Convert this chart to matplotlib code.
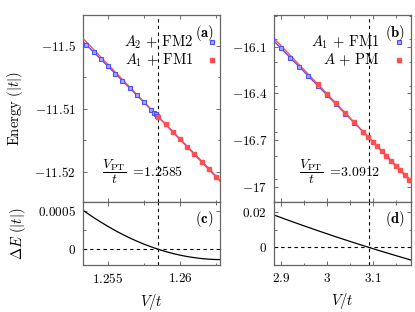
import numpy as np
import matplotlib
matplotlib.use("Agg")
import matplotlib.pyplot as plt
from matplotlib.ticker import MultipleLocator

plt.rcParams['mathtext.fontset'] = 'cm'
plt.rcParams['font.family'] = 'serif'
plt.rcParams['font.serif'] = ['DejaVu Serif']
plt.rcParams['font.size'] = 9.5

# ---- panel (a)/(c): V/t around 1.2585
va = [1.2530, 1.2535, 1.2540, 1.2545, 1.2550, 1.2555, 1.2560, 1.2565, 1.2570, 1.2575, 1.2580,
      1.2585, 1.2590, 1.2595, 1.2600, 1.2605, 1.2610, 1.2615, 1.2620, 1.2625, 1.2630]
ea_fm1 = [-11.49821, -11.49940, -11.50059, -11.50178, -11.50297, -11.50416, -11.50535, -11.50654,
          -11.50773, -11.50892, -11.51011, -11.51130, -11.51249, -11.51368, -11.51487, -11.51606,
          -11.51725, -11.51844, -11.51963, -11.52082, -11.52201]
ea_fm2 = [-11.49875, -11.49987, -11.50100, -11.50213, -11.50327, -11.50440, -11.50554, -11.50669,
          -11.50784, -11.50899, -11.51014, -11.51130, -11.51246, -11.51363, -11.51479, -11.51597,
          -11.51714, -11.51832, -11.51950, -11.52069, -11.52188]
va_extra = [1.2582, 1.2583, 1.2584]
ea_fm2_extra = [-11.51061, -11.51083, -11.51107]
dea = [0.000540, 0.000474, 0.000411, 0.000352, 0.000296, 0.000243, 0.000194, 0.000148, 0.000106,
       0.000067, 0.000032, 0.0, -0.0000285, -0.0000536, -0.0000753, -0.0000934, -0.000108,
       -0.0001196, -0.0001275, -0.000132, -0.000133]
vpt_a = 1.2585

# ---- panel (b)/(d): V/t around 3.0912
vb = [2.88, 2.90, 2.92, 2.94, 2.96, 2.98, 3.00, 3.02, 3.04, 3.06, 3.08,
      3.10, 3.12, 3.14, 3.16, 3.18, 3.20]
eb_pm = [-16.0315, -16.0932, -16.1549, -16.2166, -16.2783, -16.3400, -16.4017, -16.4634, -16.5251,
         -16.5868, -16.6485, -16.7102, -16.7719, -16.8336, -16.8953, -16.9570, -17.0187]
eb_fm1 = [-16.0501, -16.1099, -16.1697, -16.2296, -16.2895, -16.3494, -16.4093, -16.4693, -16.5293,
          -16.5893, -16.6494, -16.7095, -16.7696, -16.8298, -16.8899, -16.9501, -17.0104]
vb_pm_extra = [3.09, 3.11, 3.13, 3.15, 3.17]
eb_pm_extra = [-16.6794, -16.7411, -16.8028, -16.8645, -16.9262]
deb = [0.01860, 0.01670, 0.01483, 0.01299, 0.01118, 0.00939, 0.00764, 0.00591, 0.00421, 0.00254,
       0.00091, -0.00071, -0.00229, -0.00384, -0.00537, -0.00687, -0.00834]
vpt_b = 3.0912

blue = '#4f4fff'
red = '#ff4f4f'
blue_ms = 2.9
red_ms = 2.6

fig = plt.figure(figsize=(4.15, 3.12), dpi=100)
ax_a = fig.add_axes([0.2000, 0.3526, 0.3301, 0.5994])
ax_b = fig.add_axes([0.6602, 0.3526, 0.3301, 0.5994])
ax_c = fig.add_axes([0.2000, 0.1506, 0.3301, 0.2019])
ax_d = fig.add_axes([0.6602, 0.1506, 0.3301, 0.2019])


def style(ax):
    ax.tick_params(direction='in', which='both', top=True, right=True, length=3, width=0.6,
                   color='#555555', labelsize=9.5, pad=5)
    ax.tick_params(which='minor', length=1.8)
    for s in ax.spines.values():
        s.set_color('#666666')
        s.set_linewidth(0.9)


def energy_panel(ax, v, e_lo, e_hi, v_lo_extra, e_lo_extra, vpt):
    v = np.array(v)
    e_lo = np.array(e_lo)
    e_hi = np.array(e_hi)
    ax.plot(v, e_lo, color=blue, lw=1.0, zorder=2)
    ax.plot(v, e_hi, color=red, lw=1.0, zorder=3)
    m1 = v <= vpt
    ax.plot(np.r_[v[m1], v_lo_extra], np.r_[e_lo[m1], e_lo_extra], 's', ms=blue_ms, mfc='#a5a5ff',
            mec=blue, mew=0.8, ls='none', zorder=4)
    return ax


def legend_rows(ax, xt, xm, labels):
    ax.text(xt, 0.855, labels[0], transform=ax.transAxes, ha='right', va='center', fontsize=10.5)
    ax.text(xt, 0.76, labels[1], transform=ax.transAxes, ha='right', va='center', fontsize=10.5)
    ax.plot([xm], [0.855], 's', ms=blue_ms, mfc='#a5a5ff', mec=blue, mew=0.8, transform=ax.transAxes)
    ax.plot([xm], [0.76], 's', ms=red_ms, color=red, transform=ax.transAxes)


def vpt_note(ax, x, value):
    ax.text(x, 0.16, r'$\dfrac{V_{\rm PT}}{t}\;=\!%s$' % value, transform=ax.transAxes, ha='left',
            va='center', fontsize=10)


# (a)
energy_panel(ax_a, va, ea_fm2, ea_fm1, va_extra, ea_fm2_extra, vpt_a)
m = np.array(va) >= vpt_a
ax_a.plot(np.array(va)[m], np.array(ea_fm1)[m], 's', ms=red_ms, color=red, ls='none', zorder=5)
ax_a.axvline(vpt_a, color='black', ls=(0, (3, 3)), lw=0.8)
ax_a.set_xlim(1.25326, 1.26278)
ax_a.set_ylim(-11.5248, -11.4951)
ax_a.set_yticks([-11.5, -11.51, -11.52], [r'$-11.5$', r'$-11.51$', r'$-11.52$'])
ax_a.xaxis.set_major_locator(MultipleLocator(0.005))
ax_a.xaxis.set_minor_locator(MultipleLocator(0.0025))
ax_a.yaxis.set_minor_locator(MultipleLocator(0.005))
ax_a.set_xticklabels([])
ax_a.set_ylabel(r'$\mathrm{Energy}\ (|t|)$', fontsize=10.5, labelpad=7)
ax_a.text(0.955, 0.955, r'$\mathbf{(a)}$', transform=ax_a.transAxes, ha='right', va='top', fontsize=10.5)
legend_rows(ax_a, 0.805, 0.945, [r'$A_2\,+\,\mathrm{FM2}$', r'$A_1\,+\,\mathrm{FM1}$'])
vpt_note(ax_a, 0.14, '1.2585')
style(ax_a)

# (b)
energy_panel(ax_b, vb, eb_fm1, eb_pm, [], [], vpt_b)
vb_arr = np.array(vb)
m = vb_arr >= 2.97
ax_b.plot(np.r_[vb_arr[m], vb_pm_extra], np.r_[np.array(eb_pm)[m], eb_pm_extra], 's', ms=red_ms,
          color=red, ls='none', zorder=5)
ax_b.axvline(vpt_b, color='black', ls=(0, (3, 3)), lw=0.8)
ax_b.set_xlim(2.8847, 3.1836)
ax_b.set_ylim(-17.098, -15.896)
ax_b.set_yticks([-16.1, -16.4, -16.7, -17.0], [r'$-16.1$', r'$-16.4$', r'$-16.7$', r'$-17$'])
ax_b.xaxis.set_major_locator(MultipleLocator(0.1))
ax_b.xaxis.set_minor_locator(MultipleLocator(0.05))
ax_b.yaxis.set_minor_locator(MultipleLocator(0.15))
ax_b.set_xticklabels([])
ax_b.text(0.96, 0.955, r'$\mathbf{(b)}$', transform=ax_b.transAxes, ha='right', va='top', fontsize=10.5)
legend_rows(ax_b, 0.77, 0.915, [r'$A_1\,+\,\mathrm{FM1}$', r'$A\,+\,\mathrm{PM}$'])
vpt_note(ax_b, 0.18, '3.0912')
style(ax_b)

# (c)
ax_c.plot(va, dea, color='black', lw=0.9)
ax_c.axhline(0, color='black', ls=(0, (3, 3)), lw=0.8)
ax_c.axvline(vpt_a, color='black', ls=(0, (3, 3)), lw=0.8)
ax_c.set_xlim(1.25326, 1.26278)
ax_c.set_ylim(-0.000203, 0.000612)
ax_c.set_xticks([1.255, 1.26], [r'$1.255$', r'$1.26$'])
ax_c.set_yticks([0, 0.0005], [r'$0$', r'$0.0005$'])
ax_c.xaxis.set_minor_locator(MultipleLocator(0.0025))
ax_c.yaxis.set_minor_locator(MultipleLocator(0.00025))
ax_c.set_xlabel(r'$V/t$', fontsize=10.5, labelpad=4.5)
ax_c.set_ylabel(r'$\Delta E\ (|t|)$', fontsize=10.5, labelpad=7)
ax_c.text(0.955, 0.73, r'$\mathbf{(c)}$', transform=ax_c.transAxes, ha='right', va='center', fontsize=10.5)
style(ax_c)

# (d)
ax_d.plot(vb, deb, color='black', lw=0.9)
ax_d.axhline(0, color='black', ls=(0, (3, 3)), lw=0.8)
ax_d.axvline(vpt_b, color='black', ls=(0, (3, 3)), lw=0.8)
ax_d.set_xlim(2.8847, 3.1836)
ax_d.set_ylim(-0.00994, 0.02545)
ax_d.set_xticks([2.9, 3.0, 3.1], [r'$2.9$', r'$3$', r'$3.1$'])
ax_d.set_yticks([0, 0.02], [r'$0$', r'$0.02$'])
ax_d.xaxis.set_minor_locator(MultipleLocator(0.05))
ax_d.yaxis.set_minor_locator(MultipleLocator(0.01))
ax_d.set_xlabel(r'$V/t$', fontsize=10.5, labelpad=4.5)
ax_d.text(0.96, 0.73, r'$\mathbf{(d)}$', transform=ax_d.transAxes, ha='right', va='center', fontsize=10.5)
style(ax_d)

fig.savefig('out.png', dpi=100)
